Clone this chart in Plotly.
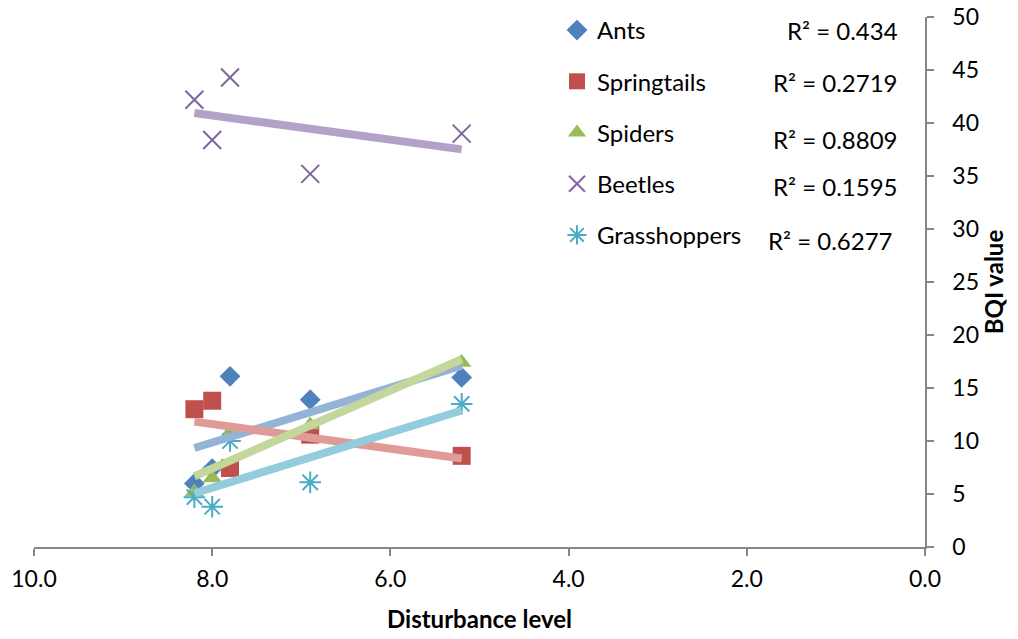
import numpy as np
import plotly.graph_objects as go

# Disturbance level of each site
disturbance = [8.2, 8.0, 7.8, 6.9, 5.2]

# BQI value per taxon at each site
ants = [6.0, 7.4, 16.1, 13.9, 16.0]
springtails = [13.0, 13.8, 7.45, 10.6, 8.6]
spiders = [5.2, 6.5, 10.8, 11.5, 17.4]
beetles = [42.2, 38.4, 44.3, 35.2, 39.0]
grasshoppers = [4.7, 3.8, 10.0, 6.1, 13.5]

series_names = ["Ants", "Springtails", "Spiders", "Beetles", "Grasshoppers"]
r2_labels = ["R² = 0.434", "R² = 0.2719", "R² = 0.8809", "R² = 0.1595", "R² = 0.6277"]

values = [ants, springtails, spiders, beetles, grasshoppers]
marker_colors = ["#4f81bd", "#c0504d", "#9bbb59", "#8064a2", "#4bacc6"]
trend_colors = ["#95b3d7", "#e09b99", "#c3d69b", "#b3a2c7", "#93cddd"]
symbols = ["diamond", "square", "triangle-up", "x-thin-open", "asterisk-open"]
sizes = [16, 18, 17, 18, 18]

FONT = "Lato, 'Open Sans', sans-serif"
W, H = 1018, 639

fig = go.Figure()

for name, ys, mc, sym, sz in zip(series_names, values, marker_colors, symbols, sizes):
    open_sym = sym.endswith("open")
    fig.add_trace(go.Scatter(
        x=disturbance, y=ys, mode="markers", name=name,
        legendgroup=name,
        marker=dict(symbol=sym, size=sz, color=mc,
                    line=dict(color=mc, width=2 if open_sym else 0)),
    ))

# Linear trendlines over the sampled range
xs = np.array(disturbance)
x_line = np.array([xs.max(), xs.min()])
for name, ys, tc in zip(series_names, values, trend_colors):
    slope, intercept = np.polyfit(xs, np.array(ys), 1)
    fig.add_trace(go.Scatter(
        x=x_line, y=slope * x_line + intercept, mode="lines",
        line=dict(color=tc, width=8), showlegend=False, hoverinfo="skip",
    ))

# Plot-area geometry in pixels (left, right, top, bottom)
PL, PR, PT, PB = 34, 925, 17, 547

# R² labels beside the legend entries
r2_y = [31, 83, 140, 186, 240]
r2_x = [900, 900, 900, 900, 895]
for txt, yy, xx in zip(r2_labels, r2_y, r2_x):
    fig.add_annotation(
        text=txt, xref="paper", yref="paper",
        x=(xx - PL) / (PR - PL), y=(PB - yy) / (PB - PT),
        xanchor="right", yanchor="middle", showarrow=False,
        font=dict(family=FONT, size=24, color="#000000"),
    )

axis_color = "#868686"
fig.update_layout(
    width=W, height=H,
    margin=dict(l=PL, r=W - PR, t=PT, b=H - PB, autoexpand=False),
    paper_bgcolor="white", plot_bgcolor="white",
    font=dict(family=FONT, size=23, color="#000000"),
    showlegend=True,
    legend=dict(
        x=(557 - PL) / (PR - PL), y=(PB - 8) / (PB - PT),
        xanchor="left", yanchor="top",
        bgcolor="rgba(0,0,0,0)", font=dict(family=FONT, size=24),
        tracegroupgap=17, itemwidth=30,
    ),
    xaxis=dict(
        range=[10, 0], tickmode="linear", tick0=0, dtick=2, tickformat=".1f",
        showgrid=False, zeroline=False, showline=True, linecolor=axis_color, linewidth=1.5,
        ticks="outside", ticklen=7, tickcolor=axis_color, tickwidth=1.5,
        ticklabelstandoff=4, automargin=False,
        title=dict(text="<b>Disturbance level</b>", font=dict(size=24), standoff=20),
        tickfont=dict(size=23),
    ),
    yaxis=dict(
        range=[0, 50], side="right", tickmode="linear", tick0=0, dtick=5,
        showgrid=False, zeroline=False, showline=True, linecolor=axis_color, linewidth=1.5,
        ticks="outside", ticklen=7, tickcolor=axis_color, tickwidth=1.5,
        ticklabelstandoff=14, automargin=False,
        title=dict(text="<b>BQI value</b>", font=dict(size=24), standoff=2),
        tickfont=dict(size=23),
    ),
)

fig.write_html("out.html")
